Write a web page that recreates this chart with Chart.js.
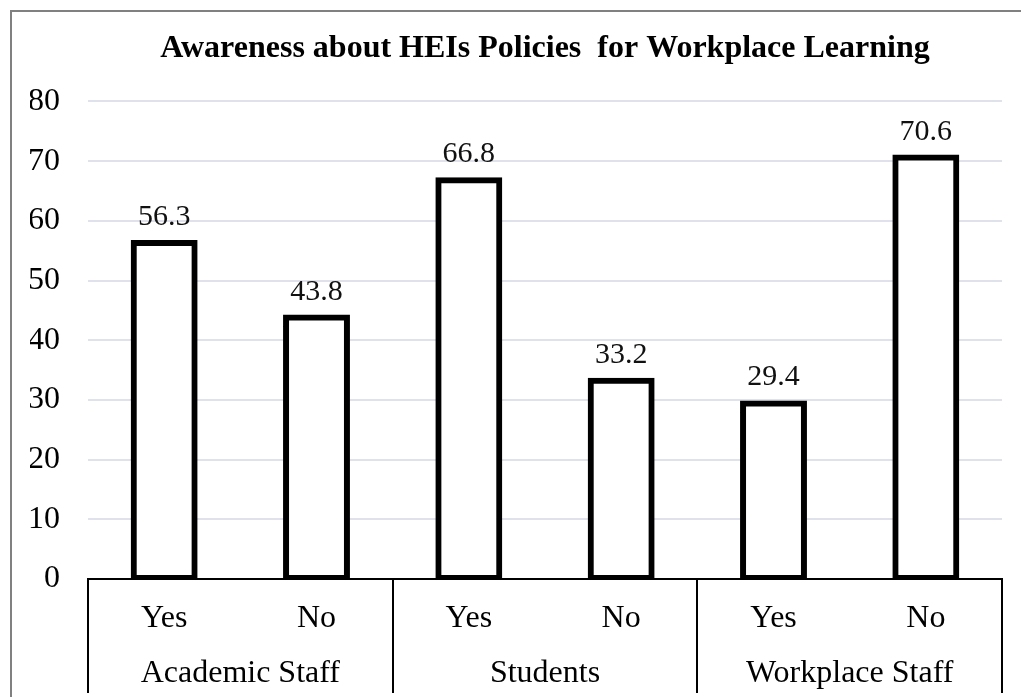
<!DOCTYPE html>
<html>
<head>
<meta charset="utf-8">
<script src="https://cdn.jsdelivr.net/npm/chart.js@4/dist/chart.umd.min.js"></script>
<style>
  body { margin: 0; background: #fff; }
</style>
</head>
<body>
<canvas id="chart" width="1021" height="697"></canvas>
<script>
const answers = ["Yes", "No", "Yes", "No", "Yes", "No"];
const groups = ["Academic Staff", "Students", "Workplace Staff"];
const percentages = [56.3, 43.8, 66.8, 33.2, 29.4, 70.6];
const yTicks = [0, 10, 20, 30, 40, 50, 60, 70, 80];

const serif = "'Liberation Serif', 'Times New Roman', serif";

// grey frame on the left and top edges
const framePlugin = {
  id: "frame",
  beforeDraw: (chart) => {
    const { ctx, width, height } = chart;
    ctx.save();
    ctx.strokeStyle = "#808080";
    ctx.lineWidth = 2;
    ctx.beginPath();
    ctx.moveTo(11, height);
    ctx.lineTo(11, 11);
    ctx.lineTo(width, 11);
    ctx.stroke();
    ctx.restore();
  },
};

// value printed above every bar
const valueLabels = {
  id: "valueLabels",
  afterDatasetsDraw: (chart) => {
    const { ctx } = chart;
    ctx.save();
    ctx.font = "30px " + serif;
    ctx.fillStyle = "#111";
    ctx.textAlign = "center";
    ctx.textBaseline = "alphabetic";
    chart.getDatasetMeta(0).data.forEach((bar, i) => {
      ctx.fillText(percentages[i].toFixed(1), bar.x, bar.y - 18);
    });
    ctx.restore();
  },
};

new Chart(document.getElementById("chart"), {
  type: "bar",
  data: {
    labels: answers,
    datasets: [
      {
        data: percentages,
        backgroundColor: "#fff",
        borderColor: "#000",
        borderWidth: 6,
        borderSkipped: false,
        inflateAmount: 3,
        barPercentage: 0.4,
        categoryPercentage: 1,
      },
    ],
  },
  options: {
    responsive: false,
    animation: false,
    layout: {
      padding: { left: 30, right: 19, top: 0, bottom: 0 },
    },
    plugins: {
      legend: { display: false },
      tooltip: { enabled: false },
      title: {
        display: true,
        fullSize: false,
        text: "Awareness about HEIs Policies  for Workplace Learning",
        color: "#000",
        font: { family: serif, size: 32, weight: "bold" },
        padding: { top: 30, bottom: 33 },
      },
    },
    scales: {
      y: {
        min: 0,
        max: 80,
        afterBuildTicks: (scale) => {
          scale.ticks = yTicks.map((v) => ({ value: v }));
        },
        afterFit: (scale) => {
          scale.width = 58;
        },
        border: { display: false },
        grid: { color: "#dfe2ea", lineWidth: 2, drawTicks: false },
        ticks: {
          color: "#000",
          padding: 28,
          font: { family: serif, size: 32 },
        },
      },
      x: {
        offset: true,
        afterFit: (scale) => {
          scale.height = 57;
        },
        border: { display: true, color: "#000", width: 2 },
        grid: {
          offset: true,
          drawOnChartArea: false,
          drawTicks: true,
          tickLength: 114,
          lineWidth: 2,
          color: (c) =>
            c.index === undefined || c.index % 2 === 0 ? "#000" : "rgba(0,0,0,0)",
        },
        ticks: {
          color: "#000",
          padding: -94,
          maxRotation: 0,
          autoSkip: false,
          font: { family: serif, size: 32 },
        },
      },
      x2: {
        type: "category",
        position: "bottom",
        labels: groups,
        offset: true,
        afterFit: (scale) => {
          scale.height = 61;
        },
        border: { display: false },
        grid: { display: false, drawTicks: false },
        ticks: {
          color: "#000",
          padding: 18,
          maxRotation: 0,
          autoSkip: false,
          font: { family: serif, size: 32 },
        },
      },
    },
  },
  plugins: [framePlugin, valueLabels],
});
</script>
</body>
</html>
